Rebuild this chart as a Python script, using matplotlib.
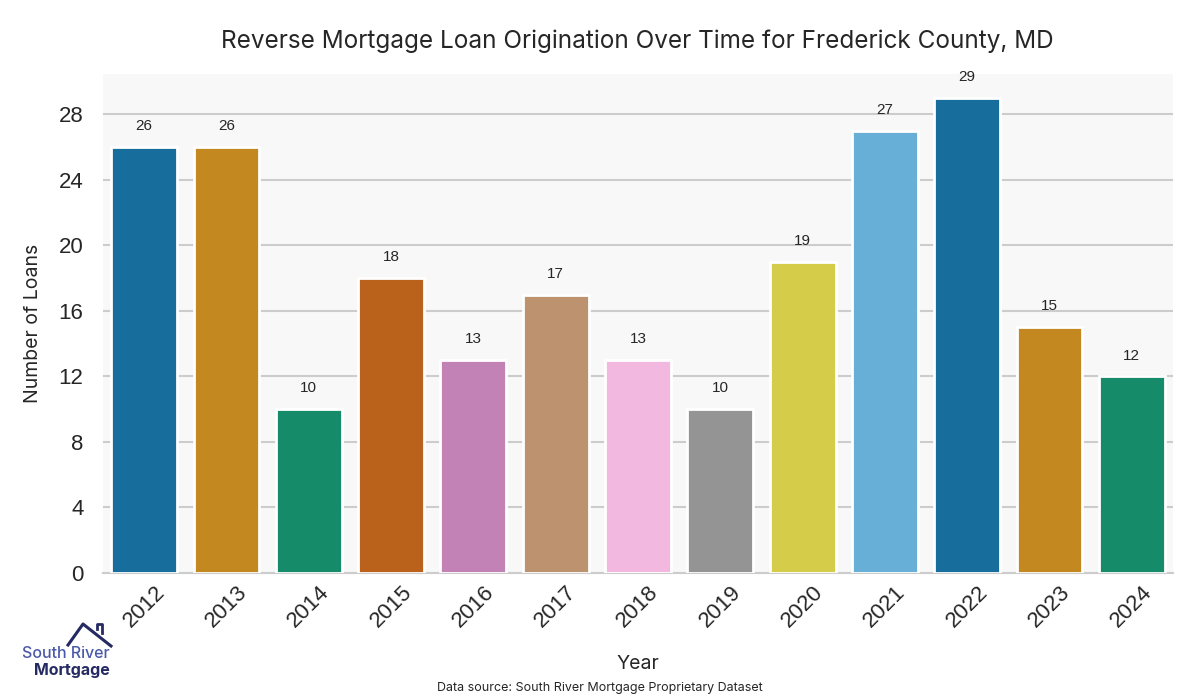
import matplotlib
matplotlib.use("Agg")
import matplotlib.pyplot as plt
import seaborn as sns
import numpy as np

years = ["2012", "2013", "2014", "2015", "2016", "2017", "2018", "2019", "2020", "2021", "2022", "2023", "2024"]
loans = [26, 26, 10, 18, 13, 17, 13, 10, 19, 27, 29, 15, 12]
yticks = [0, 4, 8, 12, 16, 20, 24, 28]

palette = sns.color_palette("colorblind", 10)
colors = [palette[i % 10] for i in range(len(years))]
colors = sns.color_palette(colors, desat=0.75)

fig = plt.figure(figsize=(12, 7), dpi=100)
ax = fig.add_axes([0.0858, 0.1814, 0.8917, 0.7126])
ax.set_facecolor("#f8f8f8")

x = np.arange(len(years))
bars = ax.bar(x, loans, width=0.8, color=colors, edgecolor="white", linewidth=2, zorder=3)
for xi, v in zip(x, loans):
    ax.annotate(str(v), (xi, v), xytext=(0, 10), textcoords="offset points",
                ha="center", va="bottom", fontsize=11, color="#262626",
                family="Liberation Sans", zorder=4)

ax.set_xlim(-0.5, len(years) - 0.5)
ax.set_ylim(0, max(loans) * 1.05)
ax.set_yticks(yticks)
ax.set_xticks(x)
ax.set_xticklabels(years, rotation=45, fontsize=16, family="Liberation Sans", color="#262626")
ax.tick_params(axis="y", labelsize=16, length=0, pad=14, colors="#262626")
for lab in ax.get_yticklabels():
    lab.set_family("Liberation Sans")
ax.tick_params(axis="x", length=0, pad=6)
ax.grid(axis="y", color="#cccccc", linewidth=1.5, zorder=0)
ax.grid(axis="x", visible=False)
for s in ["top", "right", "left"]:
    ax.spines[s].set_visible(False)
ax.spines["bottom"].set_color("#cccccc")
ax.spines["bottom"].set_linewidth(1.5)

ax.set_xlabel("Year", fontsize=14, family="Inter", color="#262626", labelpad=17)
ax.set_ylabel("Number of Loans", fontsize=14, family="Inter", color="#262626", labelpad=12)
fig.text(0.531, 0.941, "Reverse Mortgage Loan Origination Over Time for Frederick County, MD",
         ha="center", va="center", fontsize=17.5, family="Inter", color="#262626")
fig.text(0.5, 0.017, "Data source: South River Mortgage Proprietary Dataset",
         ha="center", va="center", fontsize=9, family="Inter", color="#262626")

# logo
fig.text(110 / 1200, 1 - 653 / 700, "South River", fontsize=11.5, family="Inter", fontweight="medium",
         color="#4a5aa8", ha="right", va="center")
fig.text(110 / 1200, 1 - 671 / 700, "Mortgage", fontsize=11.5, family="Inter", fontweight="bold",
         color="#262a63", ha="right", va="center")
roof_x = [68 / 1200, 83 / 1200, 111 / 1200]
roof_y = [1 - 645 / 700, 1 - 624 / 700, 1 - 646 / 700]
fig.add_artist(plt.Line2D(roof_x, roof_y, color="#262a63", linewidth=2.2, transform=fig.transFigure))
fig.add_artist(plt.Line2D([97 / 1200, 97 / 1200, 102 / 1200, 102 / 1200],
                          [1 - 629 / 700, 1 - 624 / 700, 1 - 624 / 700, 1 - 633 / 700],
                          color="#262a63", linewidth=2, transform=fig.transFigure))

fig.savefig("out.png", dpi=100, facecolor="white")
